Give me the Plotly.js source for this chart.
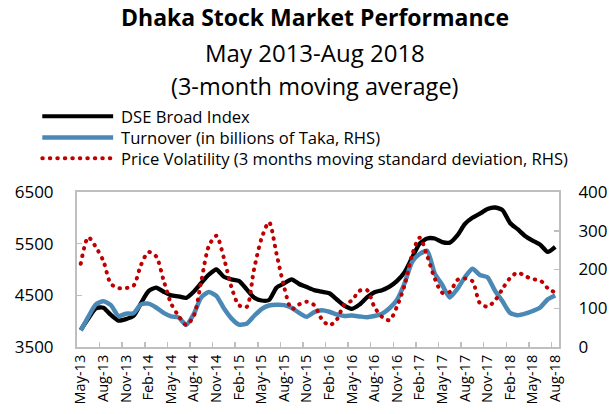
<!DOCTYPE html>
<html><head><meta charset="utf-8">
<script src="https://cdn.plot.ly/plotly-3.0.1.min.js"></script>
<style>html,body{margin:0;padding:0;background:#fff}#chart{width:616px;height:414px}</style>
</head><body><div id="chart"></div>
<script>
const months = ["May-13","Jun-13","Jul-13","Aug-13","Sep-13","Oct-13","Nov-13","Dec-13",
"Jan-14","Feb-14","Mar-14","Apr-14","May-14","Jun-14","Jul-14","Aug-14","Sep-14","Oct-14","Nov-14","Dec-14",
"Jan-15","Feb-15","Mar-15","Apr-15","May-15","Jun-15","Jul-15","Aug-15","Sep-15","Oct-15","Nov-15","Dec-15",
"Jan-16","Feb-16","Mar-16","Apr-16","May-16","Jun-16","Jul-16","Aug-16","Sep-16","Oct-16","Nov-16","Dec-16",
"Jan-17","Feb-17","Mar-17","Apr-17","May-17","Jun-17","Jul-17","Aug-17","Sep-17","Oct-17","Nov-17","Dec-17",
"Jan-18","Feb-18","Mar-18","Apr-18","May-18","Jun-18","Jul-18","Aug-18"];
const tickLabels = ["May-13","Aug-13","Nov-13","Feb-14","May-14","Aug-14","Nov-14","Feb-15","May-15","Aug-15","Nov-15",
"Feb-16","May-16","Aug-16","Nov-16","Feb-17","May-17","Aug-17","Nov-17","Feb-18","May-18","Aug-18"];
const dseBroadIndex = [3830,4050,4250,4260,4120,4010,4040,4100,4350,4580,4650,4570,4500,4480,4450,4570,
4740,4900,5000,4860,4810,4780,4620,4460,4400,4410,4650,4730,4810,4720,4660,4600,
4570,4540,4420,4300,4240,4320,4460,4560,4600,4670,4780,4950,5230,5500,5600,5600,
5530,5520,5660,5880,6000,6080,6170,6200,6150,5900,5780,5650,5560,5480,5340,5440];
const turnover = [43,78,110,118,108,80,86,87,110,112,102,88,79,76,57,85,
128,142,132,100,74,58,60,80,98,107,109,108,101,88,78,90,
95,91,84,80,81,79,77,80,86,100,122,165,220,240,248,190,
160,128,150,180,202,186,180,145,118,88,82,86,93,102,123,133];
const priceVolatility = [215,283,258,222,163,152,152,158,212,245,234,172,112,80,57,80,
170,260,287,230,155,108,103,200,280,322,240,155,98,110,117,108,
72,56,71,110,120,145,147,103,78,69,105,160,238,282,235,177,
140,142,173,177,170,113,104,120,150,178,192,183,175,172,152,140];

const seriesNames = ["DSE Broad Index","Turnover (in billions of Taka, RHS)","Price Volatility (3 months moving standard deviation, RHS)"];
const FONT = "Open Sans, sans-serif";
const BLACK = "#000000", BLUE = "#4A89B5", RED = "#C00000", GRAY = "#BFBFBF";
const DOT = "0.5px,7px";

const traces = [
  {x: months, y: dseBroadIndex, name: seriesNames[0], type: "scatter", mode: "lines",
   line: {color: BLACK, width: 4.3, shape: "spline", smoothing: 0.6}, yaxis: "y"},
  {x: months, y: turnover, name: seriesNames[1], type: "scatter", mode: "lines",
   line: {color: BLUE, width: 4.5, shape: "spline", smoothing: 0.6}, yaxis: "y2"},
  {x: months, y: priceVolatility, name: seriesNames[2], type: "scatter", mode: "lines",
   line: {color: RED, width: 4, dash: DOT, shape: "spline", smoothing: 0.8}, yaxis: "y2"}
];

const legY = [1.488, 1.352, 1.217];
const legCol = [BLACK, BLUE, RED];
const shapes = legY.map((yy, k) => ({
  type: "line", xref: "paper", yref: "paper", x0: -0.072, x1: 0.075, y0: yy, y1: yy,
  line: {color: legCol[k], width: k === 1 ? 4.5 : 4, dash: k === 2 ? DOT : "solid"}
}));
const annotations = legY.map((yy, k) => ({
  xref: "paper", yref: "paper", x: 0.087, y: yy, xanchor: "left", yanchor: "middle",
  text: seriesNames[k], showarrow: false, font: {family: FONT, size: 16.6, color: "#000"}
}));
annotations.push({xref: "paper", yref: "paper", x: 0.4938, y: 1.900, xanchor: "center", yanchor: "middle",
  text: "May 2013-Aug 2018", showarrow: false, font: {family: FONT, size: 24, color: "#000"}});
annotations.push({xref: "paper", yref: "paper", x: 0.4938, y: 1.681, xanchor: "center", yanchor: "middle",
  text: "(3-month moving average)", showarrow: false, font: {family: FONT, size: 23.5, color: "#000"}});

const layout = {
  width: 616, height: 414,
  margin: {l: 77, r: 57, t: 192, b: 67, pad: 0},
  paper_bgcolor: "#fff", plot_bgcolor: "#fff",
  showlegend: false,
  title: {text: "<b>Dhaka Stock Market Performance</b>", x: 0.4938, xref: "paper", xanchor: "center",
    y: 0.9565, yref: "container", yanchor: "middle", font: {family: FONT, size: 23, color: "#000"}},
  xaxis: {type: "category", range: [-0.5, 63.5], tickmode: "array", tickvals: tickLabels, ticktext: tickLabels,
    tickson: "boundaries", ticks: "inside", ticklen: 5, tickcolor: GRAY, tickwidth: 1.5,
    tickangle: -90, tickfont: {family: FONT, size: 14.5, color: "#000"},
    showline: true, linecolor: GRAY, linewidth: 2, mirror: true, showgrid: false, zeroline: false, fixedrange: true},
  yaxis: {range: [3500, 6500], tickvals: [3500, 4500, 5500, 6500], ticks: "inside", ticklen: 5, tickcolor: GRAY,
    tickwidth: 1.5, ticklabelstandoff: 18,
    tickfont: {family: FONT, size: 17, color: "#000"}, showline: true, linecolor: GRAY, linewidth: 2,
    showgrid: false, zeroline: false},
  yaxis2: {range: [0, 400], tickvals: [0, 100, 200, 300, 400], overlaying: "y", side: "right",
    ticks: "inside", ticklen: 5, tickcolor: GRAY, tickwidth: 1.5, ticklabelstandoff: 14,
    tickfont: {family: FONT, size: 17, color: "#000"}, showline: true, linecolor: GRAY, linewidth: 2,
    showgrid: false, zeroline: false},
  shapes: shapes,
  annotations: annotations
};

function roundDots() {
  document.querySelectorAll("#chart path").forEach(p => {
    const d = (p.style.strokeDasharray || p.getAttribute("stroke-dasharray") || "");
    if (d.indexOf("7px") >= 0 || d.indexOf("7,") >= 0 || /\b7\b/.test(d)) {
      p.style.strokeLinecap = "round";
    }
  });
}
Plotly.newPlot("chart", traces, layout, {staticPlot: true, displayModeBar: false}).then(roundDots);
</script></body></html>
